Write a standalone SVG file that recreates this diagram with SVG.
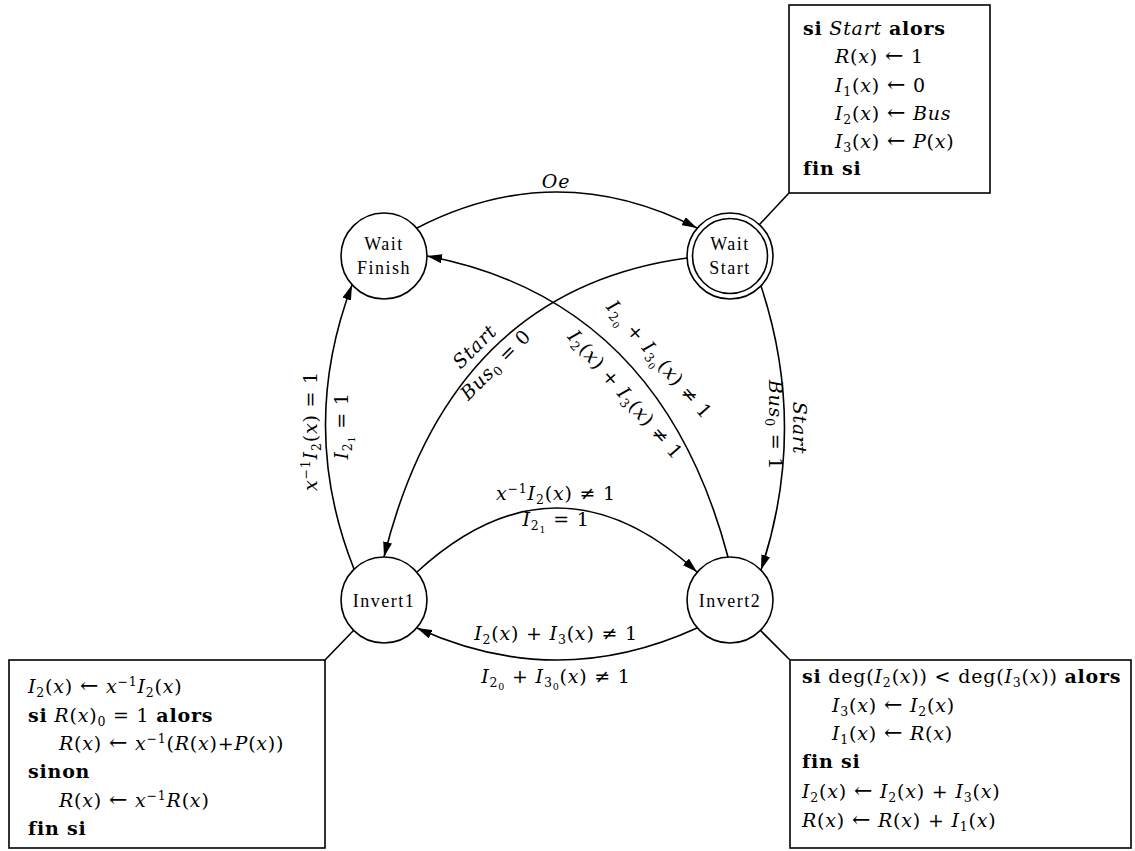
<svg xmlns="http://www.w3.org/2000/svg" width="1135" height="851" viewBox="0 0 1135 851">
<style>
.n{fill:#fff;stroke:#000;stroke-width:1.6}
.bx{fill:#fff;stroke:#000;stroke-width:1.6}
.e{fill:none;stroke:#000;stroke-width:1.6}
text{font-family:"DejaVu Serif",serif;font-size:19px;letter-spacing:0.8px;fill:#000}
.nt{font-family:"Liberation Serif",serif;font-size:18px;letter-spacing:1.5px;text-anchor:middle}
.c{text-anchor:middle}
.i{font-style:italic}
.b{font-weight:bold}
.s{font-size:12.5px}
.ss{font-size:9.5px}
.ar{font-size:22px}
</style>
<defs>
<marker id="a" viewBox="0 0 15 9" refX="15" refY="4.5" markerWidth="15" markerHeight="9" markerUnits="userSpaceOnUse" orient="auto"><path d="M0,0 L15,4.5 L0,9 z" fill="#000"/></marker>
</defs>
<rect width="1135" height="851" fill="#fff"/>
<g id="connectors">
<path class="e" d="M417,228 Q557,156 697,228" marker-end="url(#a)"/>
<path class="e" d="M728,557 Q660,300 427,256" marker-end="url(#a)"/>
<path class="e" d="M687,258 Q450,290 384,557" marker-end="url(#a)"/>
<path class="e" d="M761,286 Q808,428 761,570" marker-end="url(#a)"/>
<path class="e" d="M354,569 Q298,428 352,285" marker-end="url(#a)"/>
<path class="e" d="M417,572 Q557,444 697,572" marker-end="url(#a)"/>
<path class="e" d="M697,628 Q557,692 417,628" marker-end="url(#a)"/>
<line class="e" x1="759" y1="225" x2="789" y2="193"/>
<line class="e" x1="354" y1="630" x2="325" y2="660"/>
<line class="e" x1="760" y1="630" x2="790" y2="660"/>
<text x="556" y="188" class="c i">Oe</text>
<text x="556" y="500" class="c"><tspan class="i">x</tspan><tspan class="s" dy="-7">−1</tspan><tspan class="i" dy="7">I</tspan><tspan class="s" dy="4">2</tspan><tspan dy="-4">(</tspan><tspan class="i">x</tspan>) ≠ 1</text>
<text x="556" y="526" class="c"><tspan class="i">I</tspan><tspan class="s" dy="4">2</tspan><tspan class="ss" dy="3">1</tspan><tspan dy="-7"> = 1</tspan></text>
<text x="556" y="640" class="c"><tspan class="i">I</tspan><tspan class="s" dy="4">2</tspan><tspan dy="-4">(</tspan><tspan class="i">x</tspan>) + <tspan class="i">I</tspan><tspan class="s" dy="4">3</tspan><tspan dy="-4">(</tspan><tspan class="i">x</tspan>) ≠ 1</text>
<text x="556" y="683" class="c"><tspan class="i">I</tspan><tspan class="s" dy="4">2</tspan><tspan class="ss" dy="3">0</tspan><tspan dy="-7"> + </tspan><tspan class="i">I</tspan><tspan class="s" dy="4">3</tspan><tspan class="ss" dy="3">0</tspan><tspan dy="-7">(</tspan><tspan class="i">x</tspan>) ≠ 1</text>
<text transform="translate(311,431) rotate(-90)" y="6" class="c"><tspan class="i">x</tspan><tspan class="s" dy="-7">−1</tspan><tspan class="i" dy="7">I</tspan><tspan class="s" dy="4">2</tspan><tspan dy="-4">(</tspan><tspan class="i">x</tspan>) = 1</text>
<text transform="translate(342,426) rotate(-90)" y="6" class="c"><tspan class="i">I</tspan><tspan class="s" dy="4">2</tspan><tspan class="ss" dy="3">1</tspan><tspan dy="-7"> = 1</tspan></text>
<text transform="translate(799,428) rotate(90)" y="6" class="c i">Start</text>
<text transform="translate(775,425) rotate(90)" y="6" class="c"><tspan class="i">Bus</tspan><tspan class="s" dy="4">0</tspan><tspan dy="-4"> = 1</tspan></text>
<text transform="translate(475,347) rotate(-45)" y="6" class="c i">Start</text>
<text transform="translate(496,365) rotate(-45)" y="6" class="c"><tspan class="i">Bus</tspan><tspan class="s" dy="4">0</tspan><tspan dy="-4"> = 0</tspan></text>
<text transform="translate(659,360) rotate(49)" y="6" class="c"><tspan class="i">I</tspan><tspan class="s" dy="4">2</tspan><tspan class="ss" dy="3">0</tspan><tspan dy="-7"> + </tspan><tspan class="i">I</tspan><tspan class="s" dy="4">3</tspan><tspan class="ss" dy="3">0</tspan><tspan dy="-7">(</tspan><tspan class="i">x</tspan>) ≠ 1</text>
<text transform="translate(625,395) rotate(49)" y="6" class="c"><tspan class="i">I</tspan><tspan class="s" dy="4">2</tspan><tspan dy="-4">(</tspan><tspan class="i">x</tspan>) + <tspan class="i">I</tspan><tspan class="s" dy="4">3</tspan><tspan dy="-4">(</tspan><tspan class="i">x</tspan>) ≠ 1</text>
</g>
<g id="wait-finish">
<circle class="n" cx="384" cy="256" r="43"/>
<text class="nt" x="384" y="250">Wait</text>
<text class="nt" x="384" y="274">Finish</text>
</g>
<g id="wait-start">
<circle class="n" cx="730" cy="256" r="43"/>
<circle class="n" cx="730" cy="256" r="37.5"/>
<text class="nt" x="730" y="250">Wait</text>
<text class="nt" x="730" y="274">Start</text>
</g>
<g id="invert1">
<circle class="n" cx="384" cy="600" r="43"/>
<text class="nt" x="384" y="607">Invert1</text>
</g>
<g id="invert2">
<circle class="n" cx="730" cy="600" r="43"/>
<text class="nt" x="730" y="607">Invert2</text>
</g>
<g id="note-wait-start">
<rect class="bx" x="789" y="5" width="201" height="188"/>
<text x="803" y="35"><tspan class="b">si</tspan> <tspan class="i">Start</tspan> <tspan class="b">alors</tspan></text>
<text x="835" y="63"><tspan class="i">R</tspan>(<tspan class="i">x</tspan>) <tspan class="ar">←</tspan> 1</text>
<text x="835" y="92"><tspan class="i">I</tspan><tspan class="s" dy="4">1</tspan><tspan dy="-4">(</tspan><tspan class="i">x</tspan>) <tspan class="ar">←</tspan> 0</text>
<text x="835" y="120"><tspan class="i">I</tspan><tspan class="s" dy="4">2</tspan><tspan dy="-4">(</tspan><tspan class="i">x</tspan>) <tspan class="ar">←</tspan> <tspan class="i">Bus</tspan></text>
<text x="835" y="148"><tspan class="i">I</tspan><tspan class="s" dy="4">3</tspan><tspan dy="-4">(</tspan><tspan class="i">x</tspan>) <tspan class="ar">←</tspan> <tspan class="i">P</tspan>(<tspan class="i">x</tspan>)</text>
<text x="803" y="175" class="b">fin si</text>
</g>
<g id="note-invert1">
<rect class="bx" x="9" y="660" width="316" height="188"/>
<text x="28" y="693"><tspan class="i">I</tspan><tspan class="s" dy="4">2</tspan><tspan dy="-4">(</tspan><tspan class="i">x</tspan>) <tspan class="ar">←</tspan> <tspan class="i">x</tspan><tspan class="s" dy="-7">−1</tspan><tspan class="i" dy="7">I</tspan><tspan class="s" dy="4">2</tspan><tspan dy="-4">(</tspan><tspan class="i">x</tspan>)</text>
<text x="28" y="722"><tspan class="b">si</tspan> <tspan class="i">R</tspan>(<tspan class="i">x</tspan>)<tspan class="s" dy="4">0</tspan><tspan dy="-4"> = 1 </tspan><tspan class="b">alors</tspan></text>
<text x="59" y="750"><tspan class="i">R</tspan>(<tspan class="i">x</tspan>) <tspan class="ar">←</tspan> <tspan class="i">x</tspan><tspan class="s" dy="-7">−1</tspan><tspan dy="7">(</tspan><tspan class="i">R</tspan>(<tspan class="i">x</tspan>)+<tspan class="i">P</tspan>(<tspan class="i">x</tspan>))</text>
<text x="28" y="778" class="b">sinon</text>
<text x="59" y="807"><tspan class="i">R</tspan>(<tspan class="i">x</tspan>) <tspan class="ar">←</tspan> <tspan class="i">x</tspan><tspan class="s" dy="-7">−1</tspan><tspan class="i" dy="7">R</tspan>(<tspan class="i">x</tspan>)</text>
<text x="28" y="835" class="b">fin si</text>
</g>
<g id="note-invert2">
<rect class="bx" x="790" y="660" width="341" height="188"/>
<text x="802" y="683"><tspan class="b">si</tspan> deg(<tspan class="i">I</tspan><tspan class="s" dy="4">2</tspan><tspan dy="-4">(</tspan><tspan class="i">x</tspan>)) &lt; deg(<tspan class="i">I</tspan><tspan class="s" dy="4">3</tspan><tspan dy="-4">(</tspan><tspan class="i">x</tspan>)) <tspan class="b">alors</tspan></text>
<text x="832" y="712"><tspan class="i">I</tspan><tspan class="s" dy="4">3</tspan><tspan dy="-4">(</tspan><tspan class="i">x</tspan>) <tspan class="ar">←</tspan> <tspan class="i">I</tspan><tspan class="s" dy="4">2</tspan><tspan dy="-4">(</tspan><tspan class="i">x</tspan>)</text>
<text x="832" y="740"><tspan class="i">I</tspan><tspan class="s" dy="4">1</tspan><tspan dy="-4">(</tspan><tspan class="i">x</tspan>) <tspan class="ar">←</tspan> <tspan class="i">R</tspan>(<tspan class="i">x</tspan>)</text>
<text x="802" y="768" class="b">fin si</text>
<text x="802" y="798"><tspan class="i">I</tspan><tspan class="s" dy="4">2</tspan><tspan dy="-4">(</tspan><tspan class="i">x</tspan>) <tspan class="ar">←</tspan> <tspan class="i">I</tspan><tspan class="s" dy="4">2</tspan><tspan dy="-4">(</tspan><tspan class="i">x</tspan>) + <tspan class="i">I</tspan><tspan class="s" dy="4">3</tspan><tspan dy="-4">(</tspan><tspan class="i">x</tspan>)</text>
<text x="802" y="827"><tspan class="i">R</tspan>(<tspan class="i">x</tspan>) <tspan class="ar">←</tspan> <tspan class="i">R</tspan>(<tspan class="i">x</tspan>) + <tspan class="i">I</tspan><tspan class="s" dy="4">1</tspan><tspan dy="-4">(</tspan><tspan class="i">x</tspan>)</text>
</g>
</svg>
